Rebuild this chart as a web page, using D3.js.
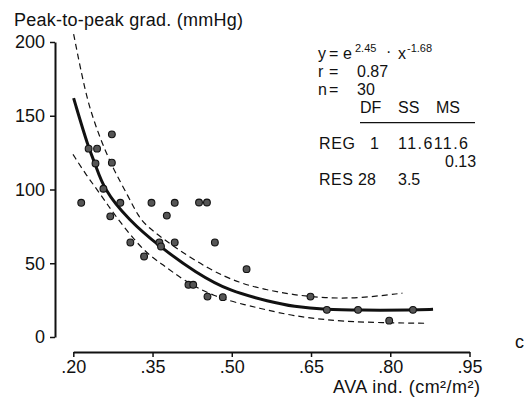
<!DOCTYPE html>
<html><head><meta charset="utf-8">
<script src="https://cdn.jsdelivr.net/npm/d3@7"></script>
<style>
body{margin:0;background:#fff}
text{font-family:"Liberation Sans",Arial,Helvetica,sans-serif;fill:#111}
</style>
</head><body>
<svg id="c" width="524" height="401"></svg>
<script>
// ---- data ----
const xTicks = [0.20, 0.35, 0.50, 0.65, 0.80, 0.95];
const yTicks = [0, 50, 100, 150, 200];
const ptX = [0.215,0.229,0.245,0.242,0.257,0.270,0.273,0.273,0.289,0.308,0.334,0.348,0.363,0.366,0.377,0.392,0.392,0.418,0.427,0.438,0.453,0.454,0.468,0.483,0.528,0.649,0.680,0.739,0.798,0.843];
const ptY = [91,127.7,127.7,117.7,100.5,81.8,137.4,118.2,91,64.1,54.6,91,64.1,61.4,82.3,91,64.1,35.4,35.4,91.2,91.2,27.4,64.1,27,46,27.4,18.4,18.4,11.1,18.4];
const fitX = [0.2006,0.229,0.2415,0.257,0.304,0.363,0.433,0.496,0.572,0.616,0.679,0.742,0.843,0.881];
const fitY = [161.9,127.7,117.7,100.5,79.6,61.4,43.3,31,24,20.6,18.4,18.2,18.2,18.8];
const upX = [0.2006,0.2226,0.238,0.254,0.276,0.304,0.323,0.339,0.389,0.458,0.515,0.565,0.616,0.679,0.742,0.823];
const upY = [205.4,165.8,147.6,131.8,113.6,95.4,81.8,75,61.4,45.6,36.5,32,28.6,26.3,26.3,29.7];
const loX = [0.1994,0.226,0.245,0.267,0.285,0.333,0.370,0.408,0.465,0.528,0.565,0.616,0.679,0.742,0.867];
const loY = [123.8,109,100,88.6,79.6,58,49,38.5,27.5,21.5,18.5,14.3,11.6,9.9,9.3];

const svg = d3.select("#c");
const x = d3.scaleLinear().domain([0.20, 0.95]).range([73.3, 469.5]);
const y = d3.scaleLinear().domain([0, 200]).range([337, 42]);
const FS = 18, SF = 16;

// y axis
const ya = svg.append("g").attr("transform","translate(55,0)")
  .call(d3.axisLeft(y).tickValues(yTicks).tickSize(5).tickSizeOuter(0).tickPadding(5).tickFormat(d3.format("d")));
ya.select(".domain").attr("stroke","#111").attr("stroke-width",2);
ya.selectAll(".tick line").attr("stroke","#111").attr("stroke-width",1.5);
ya.selectAll(".tick text").attr("font-size",FS).attr("font-family","Liberation Sans, Arial, sans-serif").attr("fill","#111");

// x axis
const xa = svg.append("g").attr("transform","translate(0,352)")
  .call(d3.axisBottom(x).tickValues(xTicks).tickSize(5).tickSizeOuter(0).tickPadding(3)
    .tickFormat(d => d3.format(".2f")(d).replace(/^0/,"")));
xa.select(".domain").attr("stroke","#111").attr("stroke-width",2);
xa.selectAll(".tick line").attr("stroke","#111").attr("stroke-width",1.5);
xa.selectAll(".tick text").attr("font-size",FS).attr("font-family","Liberation Sans, Arial, sans-serif").attr("fill","#111");

// curves
const line = d3.line().x(d => x(d[0])).y(d => y(d[1])).curve(d3.curveBasis);
const zip = (a,b) => a.map((v,i)=>[v,b[i]]);
svg.append("path").attr("d", line(zip(upX,upY))).attr("fill","none")
  .attr("stroke","#111").attr("stroke-width",1.2).attr("stroke-dasharray","6,4");
svg.append("path").attr("d", line(zip(loX,loY))).attr("fill","none")
  .attr("stroke","#111").attr("stroke-width",1.2).attr("stroke-dasharray","6,4");
svg.append("path").attr("d", line(zip(fitX,fitY))).attr("fill","none")
  .attr("stroke","#111").attr("stroke-width",3);

// points
svg.append("g").selectAll("circle").data(zip(ptX,ptY)).join("circle")
  .attr("cx", d => x(d[0])).attr("cy", d => y(d[1])).attr("r",3.4)
  .attr("fill","#555").attr("stroke","#111").attr("stroke-width",1.1);

// titles
svg.append("text").attr("x",14).attr("y",26).attr("font-size",FS)
  .attr("textLength",229).text("Peak-to-peak grad. (mmHg)");
svg.append("text").attr("x",333).attr("y",393).attr("font-size",FS)
  .attr("textLength",147).text("AVA ind. (cm²/m²)");
svg.append("text").attr("x",515).attr("y",348).attr("font-size",FS).text("c");

// stats
const T = (tx,ty,s,fs,len) => {
  const t = svg.append("text").attr("x",tx).attr("y",ty).attr("font-size",fs||SF).text(s);
  if (len) t.attr("textLength",len);
  return t;
};
T(318,59,"y"); T(329,59,"="); T(343,59,"e"); T(355,51.5,"2.45",11); T(386,57,"·"); T(398,59,"x"); T(407,51.5,"-1.68",11);
T(318,77,"r"); T(329,77,"="); T(357,77,"0.87");
T(318,95,"n"); T(329,95,"="); T(357,95,"30");
T(360,113,"DF"); T(398,113,"SS"); T(436,113,"MS");
svg.append("line").attr("x1",360).attr("x2",475).attr("y1",122.7).attr("y2",122.7)
  .attr("stroke","#111").attr("stroke-width",1.3);
T(319,149.3,"REG",SF,36); T(370,149.3,"1"); T(398,149.3,"11.611.6",SF,70);
T(445,167,"0.13");
T(319,185,"RES",SF,34); T(358,185,"28"); T(398,185,"3.5");
</script>
</body></html>
